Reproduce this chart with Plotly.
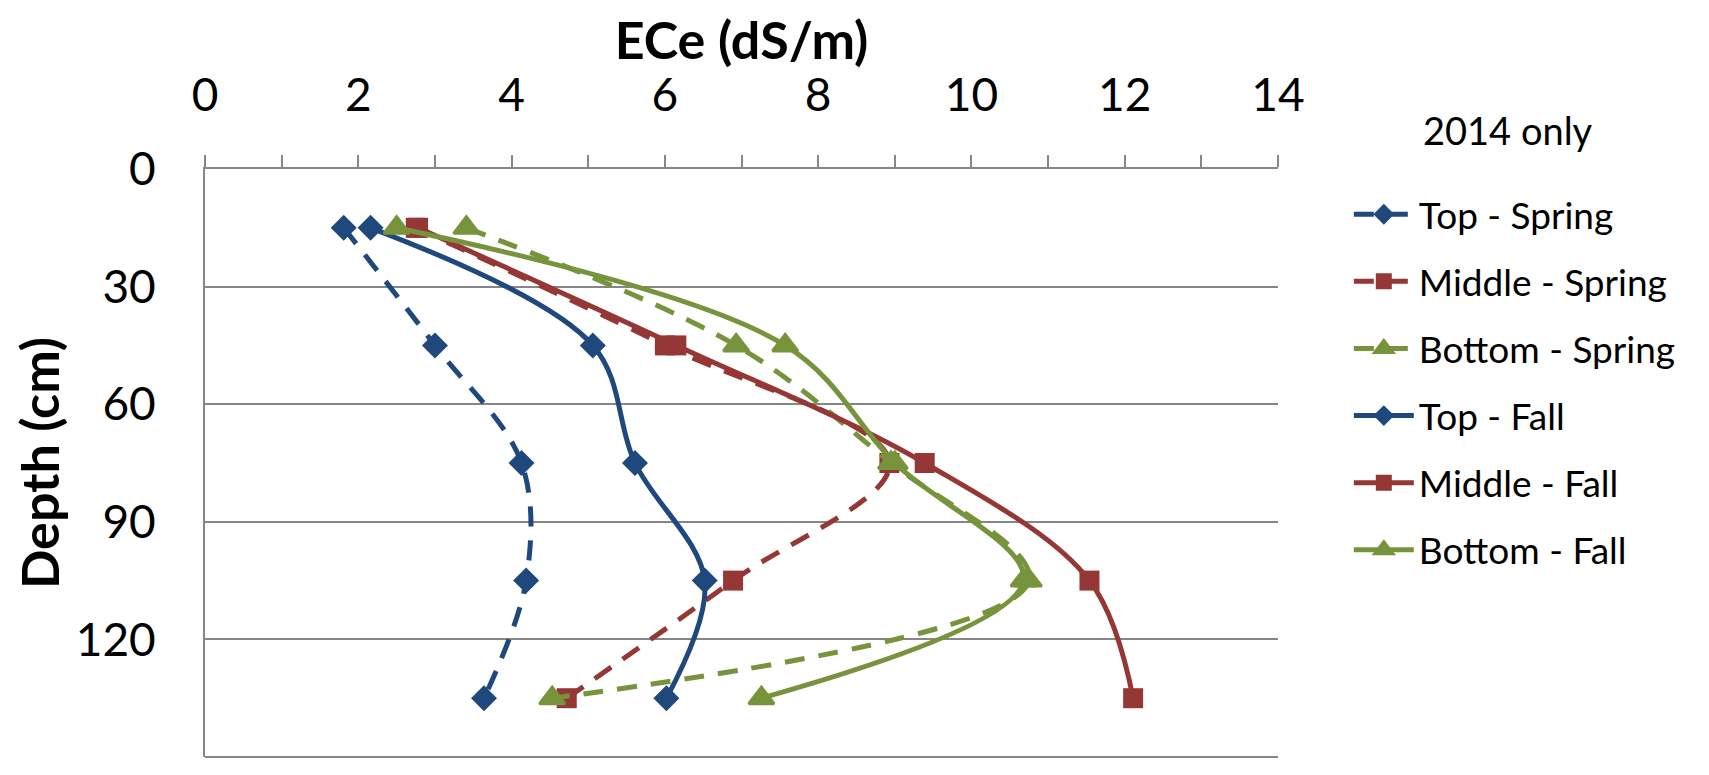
import plotly.graph_objects as go

depth = [15, 45, 75, 105, 135]

top_spring = [1.81, 3.00, 4.13, 4.19, 3.64]
middle_spring = [2.75, 6.00, 8.93, 6.89, 4.72]
bottom_spring = [3.41, 6.93, 8.95, 10.75, 4.53]
top_fall = [2.16, 5.06, 5.61, 6.52, 6.02]
middle_fall = [2.78, 6.15, 9.39, 11.54, 12.11]
bottom_fall = [2.50, 7.57, 9.00, 10.68, 7.26]

x_ticks = [0, 2, 4, 6, 8, 10, 12, 14]
y_ticks = [0, 30, 60, 90, 120, 150]

BLUE = "#1F497D"
RED = "#953735"
GREEN = "#77933C"
GRID = "#868686"
FONT = "Lato"

DASH = "20px,14px"
series = [
    ("Top - Spring", top_spring, BLUE, DASH, "diamond", 20, 0),
    ("Middle - Spring", middle_spring, RED, DASH, "square", 20, 0),
    ("Bottom - Spring", bottom_spring, GREEN, DASH, "triangle-up", 22, 3),
    ("Top - Fall", top_fall, BLUE, "solid", "diamond", 20, 0),
    ("Middle - Fall", middle_fall, RED, "solid", "square", 20, 0),
    ("Bottom - Fall", bottom_fall, GREEN, "solid", "triangle-up", 22, 3),
]

fig = go.Figure()
for i, (name, vals, color, dash, symbol, size, lw) in enumerate(series):
    fig.add_trace(go.Scatter(
        x=vals, y=depth, name=name, mode="lines+markers",
        legendgroup=f"g{i}",
        line=dict(color=color, width=5, dash=dash, shape="spline", smoothing=1.0),
        marker=dict(symbol=symbol, size=size, color=color, line=dict(width=lw, color=color)),
    ))

# bottom gridline at the end of the depth range
fig.add_shape(type="line", xref="paper", yref="paper", x0=0, x1=1, y0=0, y1=0,
              line=dict(color=GRID, width=2), layer="below")

PLOT_W, PLOT_H = 1073, 588
fig.add_annotation(text="2014 only", xref="paper", yref="paper",
                   x=(1508 - 205) / PLOT_W, y=1 + (169 - 130) / PLOT_H,
                   xanchor="center", yanchor="middle", showarrow=False,
                   font=dict(size=38, family=FONT, color="black"))

fig.update_layout(
    width=1693, height=759,
    margin=dict(l=197, r=423, t=161, b=10, autoexpand=False),
    paper_bgcolor="white", plot_bgcolor="white",
    font=dict(family=FONT, color="black"),
    showlegend=True,
    legend=dict(
        x=1.066, y=0.975, xanchor="left", yanchor="top",
        font=dict(size=37, family=FONT),
        itemwidth=60, tracegroupgap=16, maxheight=700,
        bgcolor="rgba(0,0,0,0)",
    ),
    xaxis=dict(
        side="top", range=[0, 14], tickvals=x_ticks, ticktext=[str(v) for v in x_ticks],
        ticks="outside", ticklen=12, tickwidth=2, tickcolor=GRID,
        minor=dict(dtick=1, ticks="outside", ticklen=12, tickwidth=2, tickcolor=GRID, showgrid=False),
        showline=True, linecolor=GRID, linewidth=2, showgrid=False, zeroline=False,
        tickfont=dict(size=46, family=FONT), ticklabelstandoff=26,
        title=dict(text="<b>ECe (dS/m)</b>", font=dict(size=52, family=FONT), standoff=5),
    ),
    yaxis=dict(
        range=[150, 0], tickvals=y_ticks, ticktext=[str(v) for v in y_ticks],
        showline=True, linecolor=GRID, linewidth=2,
        showgrid=True, gridcolor=GRID, gridwidth=2, zeroline=False,
        ticks="", tickfont=dict(size=46, family=FONT), ticklabelstandoff=38,
        title=dict(text="<b>Depth (cm)</b>", font=dict(size=52, family=FONT), standoff=5),
    ),
)

fig.write_html("out.html")
